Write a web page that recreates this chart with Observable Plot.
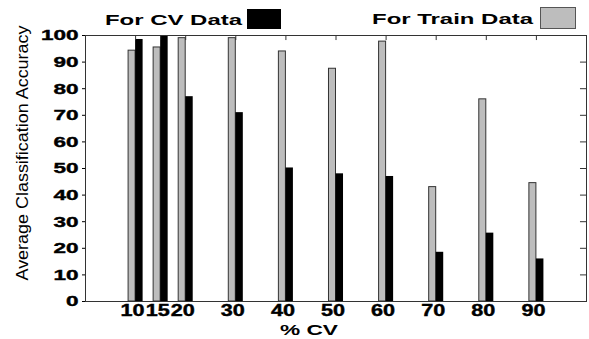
<!DOCTYPE html>
<html>
<head>
<meta charset="utf-8">
<script src="https://cdn.jsdelivr.net/npm/d3@7"></script>
<script src="https://cdn.jsdelivr.net/npm/@observablehq/plot@0.6"></script>
<style>
  html, body { margin: 0; padding: 0; background: #fff; }
  #chart { width: 589px; height: 339px; }
</style>
</head>
<body>
<div id="chart"></div>
<script>
// % CV categories (x positions)
const cvPercent = [10, 15, 20, 30, 40, 50, 60, 70, 80, 90];
// Average classification accuracy for the training data (gray bars)
const trainAcc = [94.3, 95.5, 99, 99, 94, 87.5, 97.7, 43, 76, 44.5];
// Average classification accuracy for the CV data (black bars)
const cvAcc = [98.5, 100, 77, 71, 50.2, 48, 47, 18.5, 25.7, 16];
// y tick labels
const yTicks = [0, 10, 20, 30, 40, 50, 60, 70, 80, 90, 100];

const data = cvPercent.map((c, i) => ({cv: c, train: trainAcc[i], test: cvAcc[i]}));

const plot = Plot.plot({
  width: 589,
  height: 339,
  marginLeft: 85,
  marginRight: 3,
  marginTop: 35,
  marginBottom: 38,
  style: {fontFamily: "Liberation Sans, Arial, sans-serif", background: "#fff", color: "#000"},
  x: {domain: [0, 100]},
  y: {domain: [0, 100]},
  marks: [
    Plot.rect(data, {x1: d => d.cv - 1.4, x2: "cv", y1: 0, y2: "train", fill: "#bdbdbd", stroke: "#333", strokeWidth: 1}),
    Plot.rect(data, {x1: "cv", x2: d => d.cv + 1.5, y1: 0, y2: "test", fill: "#000"}),
    Plot.ruleX(cvPercent, {x: d => d, y1: 100, y2: 98.1, stroke: "#333"}),
    Plot.ruleY(yTicks, {y: d => d, x1: 98.8, x2: 100, stroke: "#333"}),
    Plot.frame({stroke: "#333"}),
    Plot.axisX(cvPercent, {tickSize: 0, tickPadding: 3, fontWeight: "bold", fontSize: 16, dx: -3, label: null}),
    Plot.axisY(yTicks, {tickSize: 3, tickPadding: 4, fontWeight: "bold", fontSize: 15, label: null})
  ]
});

document.getElementById("chart").appendChild(plot);

const svg = d3.select(plot);

function stretch(sel, k) {
  sel.each(function () {
    const L = this.getComputedTextLength();
    this.setAttribute("textLength", L * k);
    this.setAttribute("lengthAdjust", "spacingAndGlyphs");
    this.setAttribute("stroke", "#000");
    this.setAttribute("stroke-width", 0.4);
  });
}
stretch(svg.selectAll('g[aria-label="x-axis tick label"] text'), 1.35);
stretch(svg.selectAll('g[aria-label="y-axis tick label"] text'), 1.5);

// Legend
const legend = svg.append("g")
  .attr("font-family", "Liberation Sans, Arial, sans-serif")
  .attr("font-weight", "bold").attr("font-size", 14)
  .attr("text-anchor", "start");
legend.append("text").attr("x", 105).attr("y", 25).attr("textLength", 137).attr("lengthAdjust", "spacingAndGlyphs").text("For CV Data");
legend.append("rect").attr("x", 247).attr("y", 9).attr("width", 34).attr("height", 20).attr("fill", "#000");
legend.append("text").attr("x", 372).attr("y", 24).attr("textLength", 161).attr("lengthAdjust", "spacingAndGlyphs").text("For Train Data");
legend.append("rect").attr("x", 540.5).attr("y", 7.5).attr("width", 35).attr("height", 21).attr("fill", "#bdbdbd").attr("stroke", "#555");

// Axis titles
svg.append("text")
  .attr("x", 280).attr("y", 335)
  .attr("text-anchor", "start")
  .attr("font-family", "Liberation Sans, Arial, sans-serif").attr("font-weight", "bold").attr("font-size", 14)
  .attr("textLength", 58).attr("lengthAdjust", "spacingAndGlyphs")
  .text("% CV");

svg.append("text")
  .attr("transform", "translate(28,153) rotate(-90)")
  .attr("text-anchor", "middle")
  .attr("font-family", "Liberation Sans, Arial, sans-serif").attr("font-size", 16)
  .attr("textLength", 255).attr("lengthAdjust", "spacingAndGlyphs")
  .text("Average Classification Accuracy");
</script>
</body>
</html>
